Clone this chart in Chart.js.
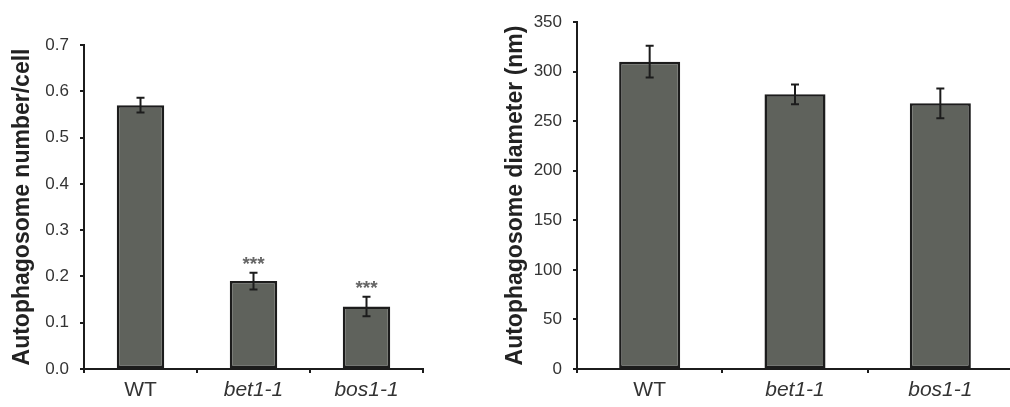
<!DOCTYPE html>
<html>
<head>
<meta charset="utf-8">
<script src="https://cdn.jsdelivr.net/npm/chart.js@4"></script>
<style>
  html, body { margin: 0; padding: 0; background: #fff; overflow: hidden; width: 1010px; height: 407px; }
  #grafica-numero { position: absolute; left: 0; top: 0; }
  #grafica-diametro { position: absolute; left: 500px; top: 0; }
</style>
</head>
<body>
<canvas id="grafica-numero" width="440" height="407"></canvas>
<canvas id="grafica-diametro" width="513" height="407"></canvas>
<script>
// datos
var categorias = ['WT', 'bet1-1', 'bos1-1'];
var numeroPorCelula = [0.57, 0.19, 0.135];
var errorNumero = [0.016, 0.018, 0.021];
var marcasNumero = ['', '***', '***'];
var ticksNumero = [0, 0.1, 0.2, 0.3, 0.4, 0.5, 0.6, 0.7];

var diametro = [310, 277, 268];
var errorDiametro = [16, 10, 15];
var ticksDiametro = [0, 50, 100, 150, 200, 250, 300, 350];

var fuente = "'Liberation Sans', Arial, sans-serif";
var colorBarra = '#5f625c';
var colorLinea = '#1c1c1c';

// plugin para las barras de error y los asteriscos
var pluginError = {
  id: 'barrasError',
  afterDatasetsDraw: function(chart, args, opts){
    var ctx = chart.ctx;
    var meta = chart.getDatasetMeta(0);
    var y = chart.scales.y;
    ctx.save();
    ctx.strokeStyle = colorLinea;
    ctx.lineWidth = 2;
    meta.data.forEach(function(barra, i){
      var v = chart.data.datasets[0].data[i];
      var e = opts.errores[i];
      var x = barra.x;
      var yArriba = y.getPixelForValue(v + e);
      var yAbajo = y.getPixelForValue(v - e);
      ctx.beginPath();
      ctx.moveTo(x, yArriba); ctx.lineTo(x, yAbajo);
      ctx.moveTo(x - 4, yArriba); ctx.lineTo(x + 4, yArriba);
      ctx.moveTo(x - 4, yAbajo); ctx.lineTo(x + 4, yAbajo);
      ctx.stroke();
      if(opts.marcas && opts.marcas[i]){
        ctx.fillStyle = '#666';
        ctx.font = 'bold 19px ' + fuente;
        ctx.textAlign = 'center';
        ctx.textBaseline = 'middle';
        ctx.fillText(opts.marcas[i], x, yArriba - 8);
      }
    });
    ctx.restore();
  }
};

function obtenerMolde(valores, errores, marcas, ticks, titulo, anchoY, decimales, padding, margenTitulo){
  return {
    type: 'bar',
    data: {
      labels: categorias,
      datasets: [{
        data: valores,
        backgroundColor: colorBarra,
        borderColor: colorLinea,
        borderWidth: 2.5,
        borderSkipped: false,
        categoryPercentage: 1,
        barPercentage: 0.42
      }]
    },
    options: {
      responsive: false,
      animation: false,
      devicePixelRatio: 1,
      layout: { padding: padding },
      plugins: {
        legend: { display: false },
        tooltip: { enabled: false },
        barrasError: { errores: errores, marcas: marcas }
      },
      scales: {
        x: {
          offset: true,
          afterFit: function(s){ s.height = 38; },
          grid: { display: true, drawOnChartArea: false, drawTicks: true, tickLength: 4, offset: true, color: colorLinea, lineWidth: 2 },
          border: { display: true, color: colorLinea, width: 2 },
          ticks: {
            color: '#333',
            padding: 5,
            font: function(c){ return { family: fuente, size: 21, style: c.index > 0 ? 'italic' : 'normal' }; }
          }
        },
        y: {
          min: ticks[0],
          max: ticks[ticks.length - 1],
          afterFit: function(s){ s.width = anchoY; },
          afterBuildTicks: function(s){ s.ticks = ticks.map(function(t){ return { value: t }; }); },
          grid: { display: true, drawOnChartArea: false, drawTicks: true, tickLength: 4, color: colorLinea, lineWidth: 2 },
          border: { display: true, color: colorLinea, width: 2 },
          title: { display: true, text: titulo, color: '#222', padding: { top: margenTitulo, bottom: 0 }, font: { family: fuente, size: 23, weight: 'bold' } },
          ticks: {
            color: '#333',
            padding: 11,
            font: { family: fuente, size: 17 },
            callback: function(v){ return decimales ? Number(v).toFixed(decimales) : v; }
          }
        }
      }
    },
    plugins: [pluginError]
  };
}

var canvas1 = document.getElementById('grafica-numero').getContext('2d');
var canvas2 = document.getElementById('grafica-diametro').getContext('2d');
var chart1 = new Chart(canvas1, obtenerMolde(numeroPorCelula, errorNumero, marcasNumero, ticksNumero,
  'Autophagosome number/cell', 84, 1, { left: 0, top: 45, right: 17, bottom: 0 }, 9));
var chart2 = new Chart(canvas2, obtenerMolde(diametro, errorDiametro, null, ticksDiametro,
  'Autophagosome diameter (nm)', 77, 0, { left: 0, top: 22, right: 0, bottom: 0 }, 2));
</script>
</body>
</html>
